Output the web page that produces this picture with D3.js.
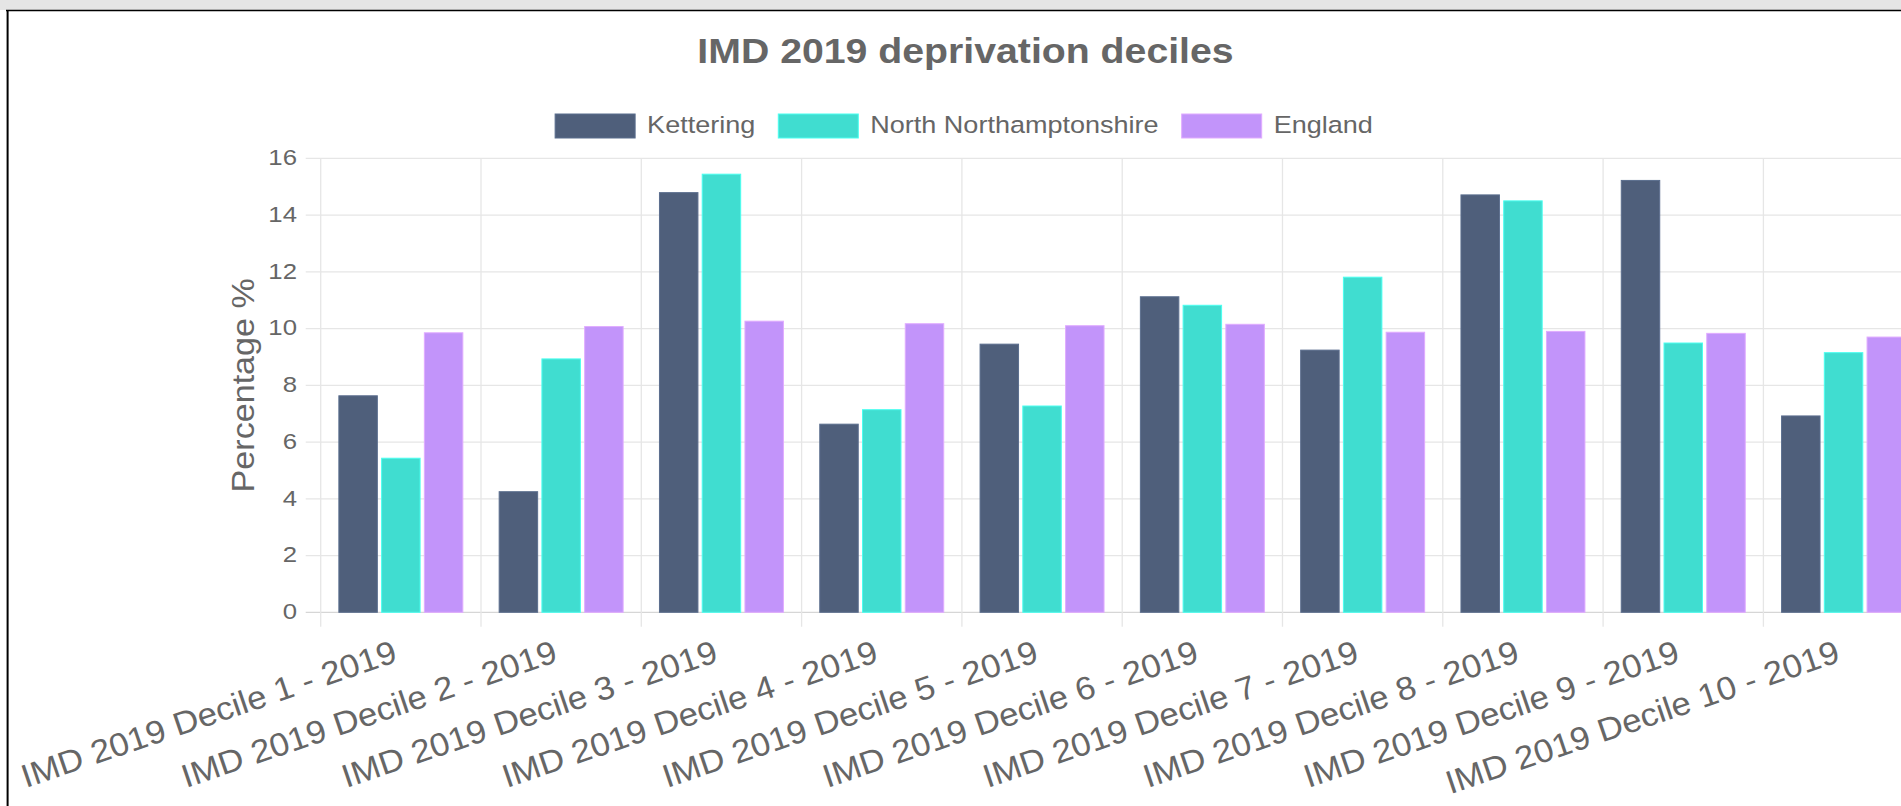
<html>
<head>
	<title>IMD 2019 deprivation deciles</title>
	<script src="https://cdn.jsdelivr.net/npm/d3@7"></script>
	<style type="text/css">
	body{
		margin: 0;
		overflow: hidden;
		background-color: white;
		font-family: "Liberation Sans", Arial, Helvetica, sans-serif;
	}
	</style>
</head>
<body>
	<div id="chart"></div>

<script type="text/javascript">

	// Chart data
	var categories = ["IMD 2019 Decile 1 - 2019", "IMD 2019 Decile 2 - 2019", "IMD 2019 Decile 3 - 2019",
	                  "IMD 2019 Decile 4 - 2019", "IMD 2019 Decile 5 - 2019", "IMD 2019 Decile 6 - 2019",
	                  "IMD 2019 Decile 7 - 2019", "IMD 2019 Decile 8 - 2019", "IMD 2019 Decile 9 - 2019",
	                  "IMD 2019 Decile 10 - 2019"];
	var seriesNames = ["Kettering", "North Northamptonshire", "England"];
	var kettering = [7.63, 4.25, 14.79, 6.63, 9.45, 11.12, 9.24, 14.71, 15.22, 6.92];
	var northNorthants = [5.43, 8.93, 15.44, 7.14, 7.27, 10.82, 11.81, 14.50, 9.49, 9.15];
	var england = [9.85, 10.07, 10.26, 10.17, 10.10, 10.15, 9.87, 9.90, 9.83, 9.70];
	var yTicks = [0, 2, 4, 6, 8, 10, 12, 14, 16];
	var colors = ["#4f5f7b", "#40ddd0", "#c294fa"];

	var series = [kettering, northNorthants, england];

	// Page and plot area (note: "top" is reserved on window, so use plot* names)
	var W = 1901, H = 806,
	    plotLeft = 320.7, plotRight = 1923.7, plotTop = 158.3, plotBottom = 612.3,
	    textColor = "#666";

	var svg = d3.select("#chart").append("svg").attr("width", W).attr("height", H);

	// Page frame: gray strip and black border
	svg.append("rect").attr("x", 0).attr("y", 0).attr("width", W).attr("height", 10).attr("fill", "#e5e5e5");
	svg.append("line").attr("x1", 6).attr("x2", W).attr("y1", 10.5).attr("y2", 10.5).attr("stroke", "#000").attr("stroke-width", 1.3);
	svg.append("line").attr("x1", 7.6).attr("x2", 7.6).attr("y1", 10).attr("y2", H).attr("stroke", "#000").attr("stroke-width", 2);

	// Scales
	var x = d3.scaleBand().domain(categories).range([plotLeft, plotRight]);
	var xs = d3.scaleBand().domain(d3.range(series.length)).range([0.1 * x.bandwidth(), 0.9 * x.bandwidth()])
	           .paddingInner(0.1).paddingOuter(0.05);
	var y = d3.scaleLinear().domain([0, 16]).range([plotBottom, plotTop]);

	// Horizontal grid lines + tick marks
	svg.append("g").selectAll("line").data(yTicks).enter().append("line")
		.attr("x1", plotLeft - 15).attr("x2", plotRight)
		.attr("y1", function(d){ return y(d); }).attr("y2", function(d){ return y(d); })
		.attr("stroke", function(d){ return d == 0 ? "#d6d6d6" : "#e6e6e6"; })
		.attr("stroke-width", 1.3);

	// Vertical grid lines at category boundaries
	var bounds = categories.map(function(c){ return x(c); }).concat([plotRight]);
	svg.append("g").selectAll("line").data(bounds).enter().append("line")
		.attr("x1", function(d){ return d; }).attr("x2", function(d){ return d; })
		.attr("y1", plotTop).attr("y2", plotBottom + 14.5)
		.attr("stroke", "#e6e6e6").attr("stroke-width", 1.3);

	// Y tick labels
	svg.append("g").selectAll("text").data(yTicks).enter().append("text")
		.attr("transform", function(d){ return "translate(297," + y(d) + ") scale(1.12,1)"; })
		.attr("dy", "0.3em")
		.attr("text-anchor", "end")
		.attr("font-size", "23px")
		.attr("fill", textColor)
		.text(function(d){ return d; });

	// Y axis title
	svg.append("text")
		.attr("transform", "translate(253.5," + ((plotTop + plotBottom) / 2) + ") rotate(-90) scale(1.1,1)")
		.attr("text-anchor", "middle")
		.attr("font-size", "31px")
		.attr("fill", textColor)
		.text("Percentage %");

	// Bars
	var groups = svg.append("g").selectAll("g").data(categories).enter().append("g")
		.attr("transform", function(c){ return "translate(" + x(c) + ",0)"; });

	groups.selectAll("rect").data(function(c, i){ return series.map(function(s, k){ return {k: k, v: s[i]}; }); })
		.enter().append("rect")
		.attr("x", function(d){ return xs(d.k); })
		.attr("width", xs.bandwidth())
		.attr("y", function(d){ return y(d.v); })
		.attr("height", function(d){ return y(0) - y(d.v); })
		.attr("fill", function(d){ return colors[d.k]; })
		.attr("stroke", function(d){ return d3.color(colors[d.k]).brighter(0.4); })
		.attr("stroke-width", 1);

	// X tick labels, rotated
	svg.append("g").selectAll("text").data(categories).enter().append("text")
		.attr("transform", function(c){ return "translate(" + (x(c) + x.bandwidth() / 2 - 2) + ",661) rotate(-18.8) scale(1.07,1)"; })
		.attr("text-anchor", "end")
		.attr("font-size", "32.5px")
		.attr("fill", textColor)
		.text(function(c){ return c; });

	// Title
	svg.append("text")
		.attr("transform", "translate(965.5,63.3) scale(1.09,1)")
		.attr("text-anchor", "middle")
		.attr("font-size", "36px")
		.attr("font-weight", "bold")
		.attr("fill", textColor)
		.text("IMD 2019 deprivation deciles");

	// Legend, centred under the title
	var legend = svg.append("g");
	var items = legend.selectAll("g").data(seriesNames).enter().append("g");
	items.append("rect")
		.attr("width", 80).attr("height", 24).attr("y", 114)
		.attr("fill", function(d, i){ return colors[i]; })
		.attr("stroke", function(d, i){ return d3.color(colors[i]).brighter(0.4); });
	var labels = items.append("text")
		.attr("font-size", "23.5px")
		.attr("fill", textColor)
		.text(function(d){ return d; });

	var widths = [];
	labels.each(function(){ widths.push(this.getComputedTextLength() * 1.15); });
	var total = d3.sum(widths) + seriesNames.length * (80 + 12) + (seriesNames.length - 1) * 23;
	var pos = 964 - total / 2;
	items.each(function(d, i){
		var g = d3.select(this);
		g.select("rect").attr("x", pos);
		g.select("text").attr("transform", "translate(" + (pos + 92) + ",132.7) scale(1.15,1)");
		pos += 92 + widths[i] + 23;
	});

</script>
</body>
</html>
